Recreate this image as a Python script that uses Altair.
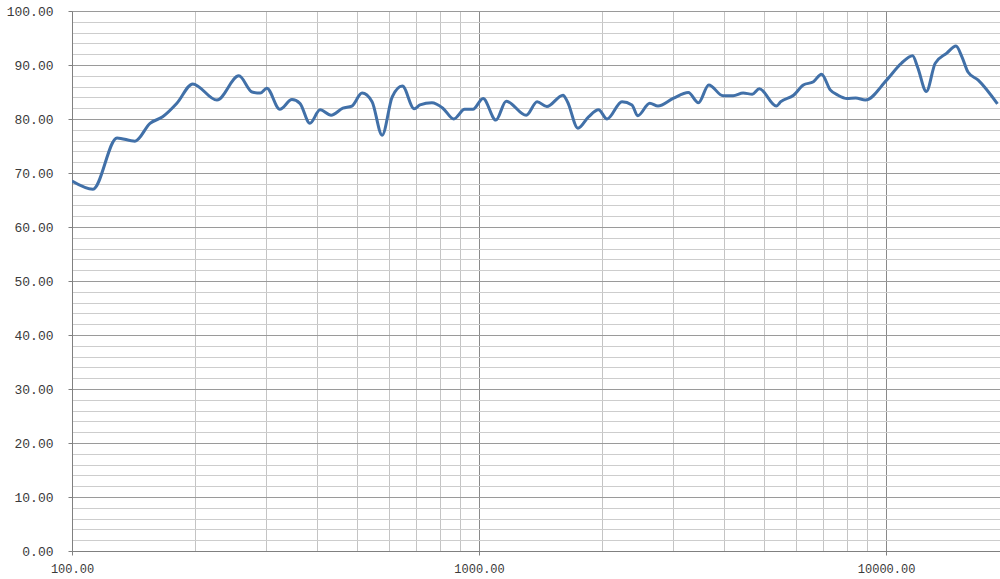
import altair as alt
import pandas as pd

# Frequency response: frequency (Hz) and level (dB)
freq_hz = [
    100, 112.6, 129, 142.8, 155.5, 167, 181, 198, 227, 257,
    277, 290, 301, 324, 347, 363, 384, 407, 433, 463,
    487, 516, 546, 578, 612, 648, 693, 716, 766, 815,
    867, 922, 966, 1023, 1100, 1166, 1306, 1389, 1467, 1608,
    1649, 1750, 1858, 1966, 2063, 2245, 2375, 2454, 2627, 2752,
    2998, 3267, 3459, 3668, 3976, 4209, 4456, 4690, 4882, 5374,
    5513, 5925, 6262, 6631, 6940, 7292, 7622, 8010, 8421, 8896,
    10030, 10900, 11620, 11950, 12560, 13200, 14100, 14850, 15360, 15890,
    16840, 18780,
]
level_db = [
    68.5, 67.0, 76.5, 75.9, 79.2, 80.4, 82.9, 86.5, 83.5, 88.0,
    85.0, 84.8, 85.7, 81.8, 83.6, 82.9, 79.2, 81.7, 80.7, 82.0,
    82.4, 84.8, 83.2, 77.0, 84.1, 86.1, 81.9, 82.6, 83.0, 82.0,
    80.0, 81.8, 81.8, 83.8, 79.8, 83.3, 80.7, 83.2, 82.3, 84.4,
    83.2, 78.3, 80.4, 81.7, 80.0, 83.2, 82.6, 80.6, 82.9, 82.4,
    83.8, 84.9, 83.0, 86.3, 84.3, 84.3, 84.8, 84.6, 85.6, 82.4,
    83.2, 84.4, 86.3, 86.9, 88.3, 85.4, 84.4, 83.8, 83.9, 83.5,
    87.2, 90.3, 91.7, 89.6, 85.1, 90.3, 92.2, 93.5, 91.5, 88.7,
    87.2, 82.8,
]

# Axis grid positions
x_grid = [m * d for d in (100, 1000, 10000) for m in range(1, 10)] + [20000]
x_major = [100, 1000, 10000]
y_grid = list(range(0, 101, 2))

df = pd.DataFrame({"freq": freq_hz, "level": level_db})

x_major_test = " || ".join(f"datum.value == {v}" for v in x_major)
y_major_test = "datum.value % 10 == 0"

font = "Liberation Mono"

chart = (
    alt.Chart(df)
    .mark_line(color="#4170A8", strokeWidth=3, interpolate="monotone", clip=True)
    .encode(
        x=alt.X(
            "freq:Q",
            scale=alt.Scale(type="log", domain=[100, 19050], nice=False),
            axis=alt.Axis(
                title=None,
                values=x_grid,
                labelExpr=f"({x_major_test}) ? format(datum.value, '.2f') : ''",
                gridColor={"condition": {"test": x_major_test, "value": "#8a8a8a"}, "value": "#c4c4c4"},
                tickOpacity={"condition": {"test": x_major_test, "value": 1}, "value": 0},
                tickColor="#808080",
                tickSize=4,
                domainColor="#808080",
                labelPadding=8,
                labelFont=font,
                labelFontSize=12,
                labelColor="#3a3a3a",
                labelOverlap=False,
                labelFlush=False,
            ),
        ),
        y=alt.Y(
            "level:Q",
            scale=alt.Scale(domain=[0, 100], nice=False),
            axis=alt.Axis(
                title=None,
                values=y_grid,
                labelExpr=f"({y_major_test}) ? format(datum.value, '.2f') : ''",
                gridColor={"condition": {"test": y_major_test, "value": "#9a9a9a"}, "value": "#cdcdcd"},
                tickOpacity={"condition": {"test": y_major_test, "value": 1}, "value": 0},
                tickColor="#808080",
                tickSize=4,
                domainColor="#808080",
                labelPadding=15,
                labelFont=font,
                labelFontSize=13,
                labelColor="#3a3a3a",
                labelOverlap=False,
                labelFlush=False,
            ),
        ),
    )
    .properties(
        width=928,
        height=540,
        padding={"left": 72, "top": 11, "right": 0, "bottom": 28},
        autosize=alt.AutoSizeParams(type="none"),
        background="white",
    )
    .configure_view(strokeWidth=0)
    .configure_axis(gridWidth=1, gridOpacity=1)
)

chart.save("out.html", embed_options={"renderer": "svg", "actions": False})
